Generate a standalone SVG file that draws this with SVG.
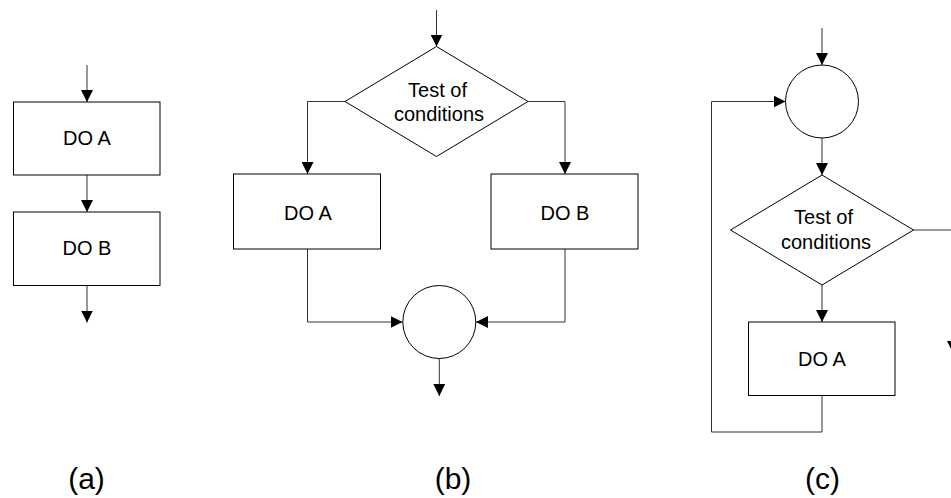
<svg xmlns="http://www.w3.org/2000/svg" width="951" height="498" viewBox="0 0 951 498">
<style>
  .box{fill:#fff;stroke:#000;stroke-width:1}
  .con{fill:none;stroke:#333;stroke-width:1}
  .t{font-family:"Liberation Sans",Arial,sans-serif;font-size:20px;fill:#000;text-anchor:middle}
  .cap{font-family:"Liberation Sans",Arial,sans-serif;font-size:30px;fill:#000;text-anchor:middle}
</style>
<defs>
  <marker id="arr" markerUnits="userSpaceOnUse" markerWidth="12" markerHeight="12" refX="12" refY="6" orient="auto" viewBox="0 0 12 12">
    <path d="M0,0 L12,6 L0,12 Z" fill="#000"/>
  </marker>
</defs>
<rect width="951" height="498" fill="#fff"/>

<g id="connectors">
  <!-- (a) -->
  <path class="con" d="M87,65 V102" marker-end="url(#arr)"/>
  <path class="con" d="M87,175 V212" marker-end="url(#arr)"/>
  <path class="con" d="M87,285.5 V322.5" marker-end="url(#arr)"/>
  <!-- (b) -->
  <path class="con" d="M436.5,10 V46.5" marker-end="url(#arr)"/>
  <path class="con" d="M345,101.5 H307.5 V174" marker-end="url(#arr)"/>
  <path class="con" d="M528,101.5 H565 V174" marker-end="url(#arr)"/>
  <path class="con" d="M307.5,249 V322 H402.5" marker-end="url(#arr)"/>
  <path class="con" d="M565,249 V322 H476" marker-end="url(#arr)"/>
  <path class="con" d="M439.3,358.5 V396" marker-end="url(#arr)"/>
  <!-- (c) -->
  <path class="con" d="M822,28 V65" marker-end="url(#arr)"/>
  <path class="con" d="M822,138 V175" marker-end="url(#arr)"/>
  <path class="con" d="M913.5,230 H953 V353" marker-end="url(#arr)"/>
  <path class="con" d="M822,285 V322" marker-end="url(#arr)"/>
  <path class="con" d="M822,395.5 V432 H711.5 V101.5 H785.5" marker-end="url(#arr)"/>
</g>

<g id="a_doA">
  <rect class="box" x="13.5" y="102" width="146.5" height="73"/>
  <text class="t" x="87" y="144.5">DO A</text>
</g>
<g id="a_doB">
  <rect class="box" x="13.5" y="212" width="146.5" height="73.5"/>
  <text class="t" x="87" y="255">DO B</text>
</g>

<g id="b_test">
  <polygon class="box" points="436.5,46.5 528,101.5 436.5,156.5 345,101.5"/>
  <text class="t" x="437.5" y="97">Test of</text>
  <text class="t" x="439" y="120.5">conditions</text>
</g>
<g id="b_doA">
  <rect class="box" x="233.5" y="174" width="147" height="75"/>
  <text class="t" x="308" y="220">DO A</text>
</g>
<g id="b_doB">
  <rect class="box" x="491" y="174" width="147" height="75"/>
  <text class="t" x="565" y="220">DO B</text>
</g>
<g id="b_join">
  <circle class="box" cx="439.3" cy="322" r="36.5"/>
</g>

<g id="c_join">
  <circle class="box" cx="822" cy="101.5" r="36.5"/>
</g>
<g id="c_test">
  <polygon class="box" points="822,175 913.5,230 822,285 730.5,230"/>
  <text class="t" x="823.5" y="224">Test of</text>
  <text class="t" x="826" y="248.5">conditions</text>
</g>
<g id="c_doA">
  <rect class="box" x="748.5" y="322" width="146.5" height="73.5"/>
  <text class="t" x="822" y="366">DO A</text>
</g>

<g id="labels">
  <text class="cap" x="86.5" y="489">(a)</text>
  <text class="cap" x="453" y="489">(b)</text>
  <text class="cap" x="822.5" y="489">(c)</text>
</g>
</svg>
